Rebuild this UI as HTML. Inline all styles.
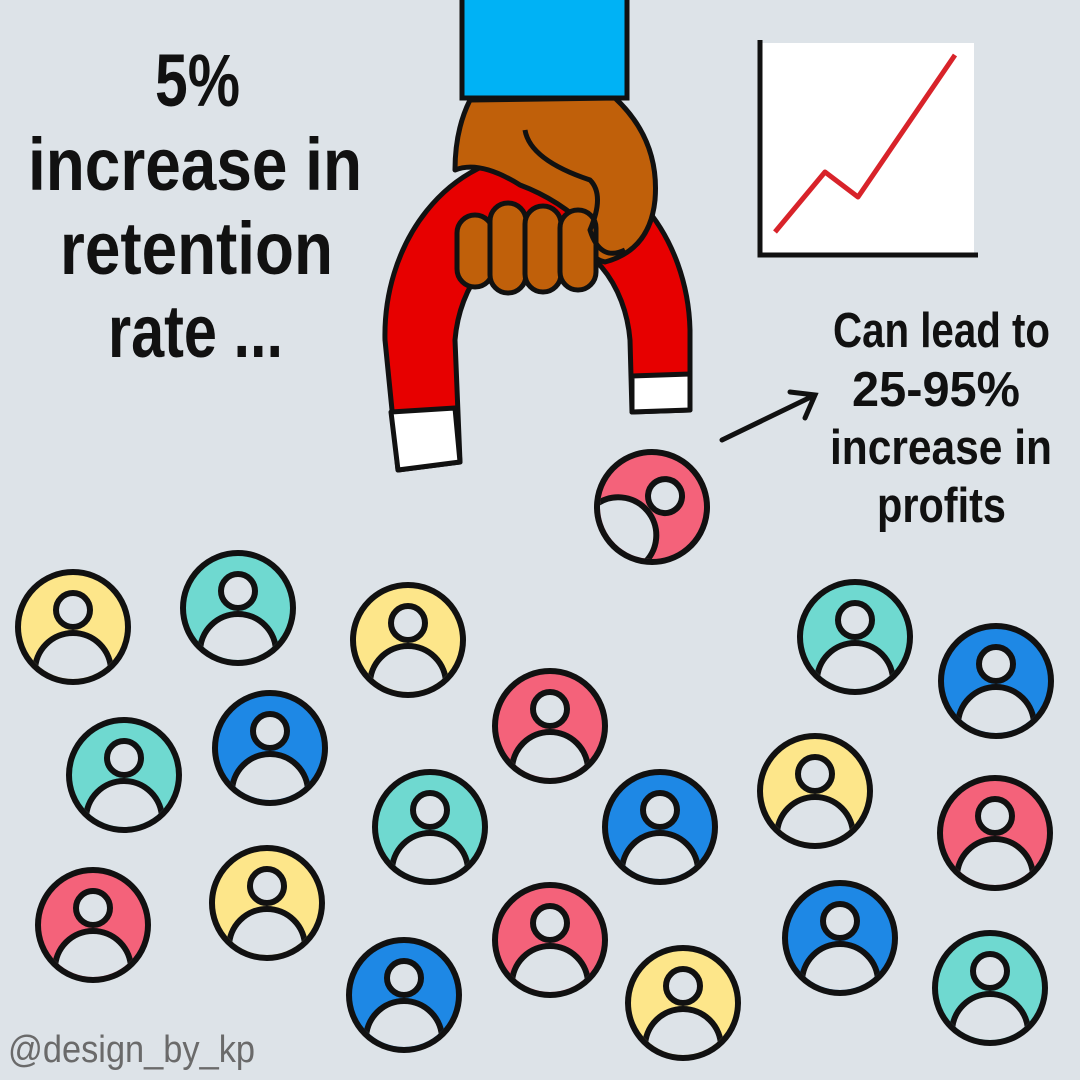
<!DOCTYPE html>
<html><head><meta charset="utf-8"><style>
body{margin:0;background:#dde3e8}
svg{display:block}
.t{font-family:"Liberation Sans",sans-serif;font-weight:bold;fill:#111}
</style></head><body>
<svg width="1080" height="1080" viewBox="0 0 1080 1080">
<rect width="1080" height="1080" fill="#dde3e8"/>
<g class="t" font-size="74">
<text x="155" y="106" textLength="85" lengthAdjust="spacingAndGlyphs">5%</text>
<text x="28" y="190" textLength="334" lengthAdjust="spacingAndGlyphs">increase in</text>
<text x="60" y="274" textLength="273" lengthAdjust="spacingAndGlyphs">retention</text>
<text x="108" y="357" textLength="175" lengthAdjust="spacingAndGlyphs">rate ...</text>
</g>
<g class="t" font-size="49">
<text x="833" y="347" textLength="217" lengthAdjust="spacingAndGlyphs">Can lead to</text>
<text x="852" y="406" textLength="168" lengthAdjust="spacingAndGlyphs">25-95%</text>
<text x="830" y="464" textLength="222" lengthAdjust="spacingAndGlyphs">increase in</text>
<text x="877" y="522" textLength="129" lengthAdjust="spacingAndGlyphs">profits</text>
</g>
<g>
<rect x="762" y="43" width="212" height="211" fill="#fff"/>
<path d="M760 40 V255 H978" fill="none" stroke="#111" stroke-width="5"/>
<path d="M775 232 L825 172 L858 197 L955 55" fill="none" stroke="#d8232a" stroke-width="5" stroke-linejoin="round"/>
</g>
<g stroke="#111" stroke-width="5" fill="none" stroke-linecap="round">
<path d="M722 440 L815 395 M790 392 L815 395 L805 418"/>
</g>
<g stroke="#111" stroke-width="5" stroke-linejoin="round">
<path d="M398 470 L385 340 A152 180 0 0 1 690 330 L690 410 L632 412 L630 340 A88 115 0 0 0 455 340 L460 462 Z" fill="#e70000"/>
<path d="M391 412 L455 408 L460 462 L398 470 Z" fill="#fff"/>
<path d="M632 376 L690 374 L690 410 L632 412 Z" fill="#fff"/>
</g>
<rect x="462" y="-5" width="165" height="103" fill="#00b2f5" stroke="#111" stroke-width="5"/>
<g stroke="#111" stroke-width="5" fill="#c0600a" stroke-linejoin="round">
<path d="M470 100 L615 98 Q660 140 655 200 Q650 250 605 262 Q585 258 590 230 Q560 200 520 185 Q480 160 455 170 Q455 130 470 100 Z"/>
<rect x="457" y="215" width="36" height="72" rx="18"/>
<rect x="490" y="203" width="36" height="90" rx="18"/>
<rect x="525" y="206" width="36" height="86" rx="18"/>
<rect x="560" y="210" width="36" height="80" rx="18"/>
<path d="M525 130 Q530 160 590 180 Q605 195 590 230 Q600 262 625 250" fill="none"/>
</g>
<defs>
<clipPath id="c"><circle cx="0" cy="0" r="52"/></clipPath>
<g id="av">
<g clip-path="url(#c)">
<circle cx="0" cy="44" r="38" fill="#dde3e8" stroke="#111" stroke-width="6"/>
</g>
<circle cx="0" cy="-17" r="17" fill="#dde3e8" stroke="#111" stroke-width="6"/>
<circle cx="0" cy="0" r="55" fill="none" stroke="#111" stroke-width="6"/>
</g>
</defs>
<g transform="translate(652,507) rotate(50)">
<circle r="55" fill="#f4627a"/><use href="#av"/>
</g>
<g id="icons"></g>
<text x="8" y="1062" textLength="247" lengthAdjust="spacingAndGlyphs" font-family="'Liberation Sans',sans-serif" font-size="38" fill="#6a6a6a">@design_by_kp</text>
</svg>
<script>
const iconX=[73,238,408,855,996,550,124,270,430,660,815,995,93,267,550,404,683,840,990];
const iconY=[627,608,640,637,681,726,775,748,827,827,791,833,925,903,940,995,1003,938,988];
const iconColor=['y','t','y','t','b','p','t','b','t','b','y','p','p','y','p','b','y','b','t'];
const pal={y:'#fde68a',t:'#6fd9d0',b:'#1e88e5',p:'#f4627a'};
const g=document.getElementById('icons');
const ns='http://www.w3.org/2000/svg';
iconX.forEach((x,i)=>{
  const gi=document.createElementNS(ns,'g');
  gi.setAttribute('transform','translate('+x+','+iconY[i]+')');
  
  
  const c=document.createElementNS(ns,'circle');
  c.setAttribute('r','55');c.setAttribute('fill',pal[iconColor[i]]);
  const u=document.createElementNS(ns,'use');
  u.setAttribute('href','#av');
  gi.appendChild(c);gi.appendChild(u);g.appendChild(gi);
});
</script>
</body></html>
